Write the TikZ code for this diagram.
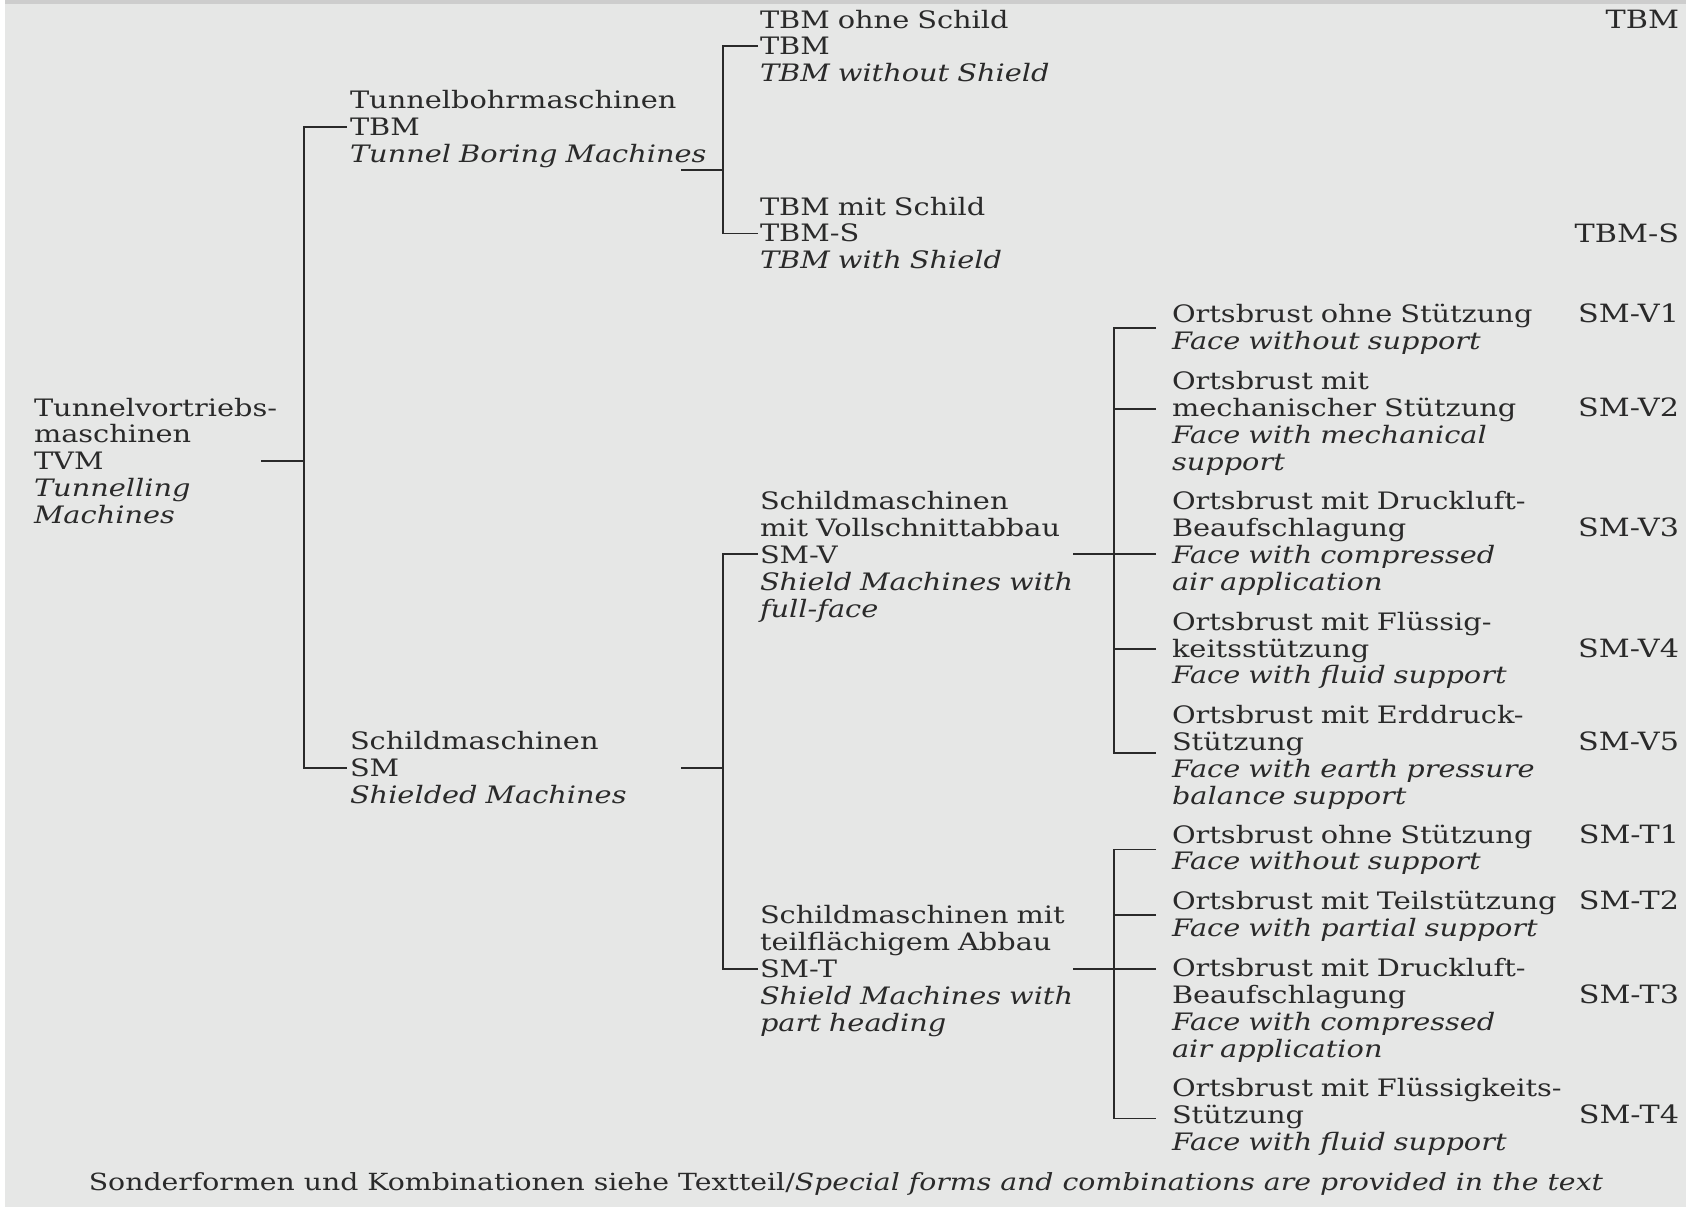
\documentclass[tikz,border=0pt]{standalone}
\usepackage{fontspec}
\setmainfont{DejaVu Serif}[FakeStretch=1.2]
\usetikzlibrary{calc}
\definecolor{bggrey}{HTML}{E6E7E6}
\definecolor{topgrey}{HTML}{CDCDCD}
\definecolor{ink}{HTML}{2A2A2A}

\begin{document}
\begin{tikzpicture}[x=0.5pt,y=-0.5pt]
        \tikzstyle{every node}=[inner sep=0pt, outer sep=0pt, align=left, text=ink, font=\fontsize{12}{13.45}\selectfont]
        \tikzstyle{entry}=[anchor=base west, text width=200pt]
        \tikzstyle{code}=[anchor=base east, font=\fontsize{12.6}{13.45}\selectfont]
        \tikzstyle{link}=[draw=ink, line width=0.75pt]
        \useasboundingbox (0,0) rectangle (1686,1207);
        \fill[bggrey] (5,0) rectangle (1686,1207);
        \fill[topgrey] (5,0) rectangle (1686,4);

        % level 0 and 1
        \node[entry] (tvm) at (34,416) {Tunnelvortriebs-\\maschinen\\TVM\\\textit{Tunnelling}\\\textit{Machines}};
        \node[entry] (tbm) at (350,108.6) {Tunnelbohrmaschinen\\TBM\\\textit{Tunnel Boring Machines}};
        \node[entry] (sm) at (350,749.5) {Schildmaschinen\\SM\\\textit{Shielded Machines}};

        % level 2
        \node[entry] (tbmo) at (760,28) {TBM ohne Schild\\TBM\\\textit{TBM without Shield}};
        \node[entry] (tbms) at (760,215) {TBM mit Schild\\TBM-S\\\textit{TBM with Shield}};
        \node[entry] (smv) at (760,509.7) {Schildmaschinen\\mit Vollschnittabbau\\SM-V\\\textit{Shield Machines with}\\\textit{full-face}};
        \node[entry] (smt) at (760,923.7) {Schildmaschinen mit\\teilflächigem Abbau\\SM-T\\\textit{Shield Machines with}\\\textit{part heading}};

        % level 3
        \node[entry] (v1) at (1172,322.6) {Ortsbrust ohne Stützung\\\textit{Face without support}};
        \node[entry] (v2) at (1172,389.3) {Ortsbrust mit\\mechanischer Stützung\\\textit{Face with mechanical}\\\textit{support}};
        \node[entry] (v3) at (1172,509.7) {Ortsbrust mit Druckluft-\\Beaufschlagung\\\textit{Face with compressed}\\\textit{air application}};
        \node[entry] (v4) at (1172,630.1) {Ortsbrust mit Flüssig-\\keitsstützung\\\textit{Face with fluid support}};
        \node[entry] (v5) at (1172,723.7) {Ortsbrust mit Erddruck-\\Stützung\\\textit{Face with earth pressure}\\\textit{balance support}};
        \node[entry] (t1) at (1172,843.0) {Ortsbrust ohne Stützung\\\textit{Face without support}};
        \node[entry] (t2) at (1172,909.7) {Ortsbrust mit Teilstützung\\\textit{Face with partial support}};
        \node[entry] (t3) at (1172,976.4) {Ortsbrust mit Druckluft-\\Beaufschlagung\\\textit{Face with compressed}\\\textit{air application}};
        \node[entry] (t4) at (1172,1096.8) {Ortsbrust mit Flüssigkeits-\\Stützung\\\textit{Face with fluid support}};

        % short names on the right
        \node[code] (c-tbm) at (1679,28) {TBM};
        \node[code] (c-tbms) at (1679,242) {TBM-S};
        \node[code] (c-v1) at (1679,322.6) {SM-V1};
        \node[code] (c-v2) at (1679,416.2) {SM-V2};
        \node[code] (c-v3) at (1679,536.6) {SM-V3};
        \node[code] (c-v4) at (1679,657.0) {SM-V4};
        \node[code] (c-v5) at (1679,750.6) {SM-V5};
        \node[code] (c-t1) at (1679,843.0) {SM-T1};
        \node[code] (c-t2) at (1679,909.7) {SM-T2};
        \node[code] (c-t3) at (1679,1003.3) {SM-T3};
        \node[code] (c-t4) at (1679,1123.7) {SM-T4};

        \node[anchor=base, font=\fontsize{11.8}{13.45}\selectfont] (note) at (846,1190.4) {Sonderformen und Kombinationen siehe Textteil/\textit{Special forms and combinations are provided in the text}};

        % hooks
        \coordinate (tvm-out) at ($(tvm.base west)+(227,45)$);
        \coordinate (tbm-in) at ($(tbm.base west)+(-3,18.3)$);
        \coordinate (sm-in) at ($(sm.base west)+(-3,18.3)$);
        \coordinate (spA) at ($(tbm-in)+(-43,0)$);
        \coordinate (tbm-out) at ($(tbm.base west)+(331,61.3)$);
        \coordinate (sm-out) at ($(sm.base west)+(331,18.3)$);
        \coordinate (tbmo-in) at ($(tbmo.base west)+(-2,18.2)$);
        \coordinate (tbms-in) at ($(tbms.base west)+(-2,18.3)$);
        \coordinate (smv-in) at ($(smv.base west)+(-2,44.1)$);
        \coordinate (smt-in) at ($(smt.base west)+(-2,45.1)$);
        \coordinate (spB) at ($(tbmo-in)+(-35,0)$);
        \coordinate (spC) at ($(smv-in)+(-35,0)$);
        \coordinate (smv-out) at ($(smv.base west)+(313,44.1)$);
        \coordinate (smt-out) at ($(smt.base west)+(313,45.1)$);
        \coordinate (v1-in) at ($(v1.base west)+(-16,5.4)$);
        \coordinate (v2-in) at ($(v2.base west)+(-16,19.7)$);
        \coordinate (v3-in) at ($(v3.base west)+(-16,44.1)$);
        \coordinate (v4-in) at ($(v4.base west)+(-16,18.9)$);
        \coordinate (v5-in) at ($(v5.base west)+(-16,29.3)$);
        \coordinate (t1-in) at ($(t1.base west)+(-16,6.5)$);
        \coordinate (t2-in) at ($(t2.base west)+(-16,5.4)$);
        \coordinate (t3-in) at ($(t3.base west)+(-16,-7.6)$);
        \coordinate (t4-in) at ($(t4.base west)+(-16,21.5)$);
        \coordinate (spD) at ($(v1-in)+(-42,0)$);
        \coordinate (spE) at ($(t1-in)+(-42,0)$);

        % connectors
        \draw[link] (tbm-in) -- (spA) |- (sm-in);
        \draw[link] (tvm-out) -- (tvm-out -| spA);
        \draw[link] (tbmo-in) -- (spB) |- (tbms-in);
        \draw[link] (tbm-out) -- (tbm-out -| spB);
        \draw[link] (smv-in) -- (spC) |- (smt-in);
        \draw[link] (sm-out) -- (sm-out -| spC);
        \draw[link] (v1-in) -- (spD) |- (v5-in);
        \foreach \n in {v2,v3,v4} \draw[link] (\n-in) -- (\n-in -| spD);
        \draw[link] (smv-out) -- (smv-out -| spD);
        \draw[link] (t1-in) -- (spE) |- (t4-in);
        \foreach \n in {t2,t3} \draw[link] (\n-in) -- (\n-in -| spE);
        \draw[link] (smt-out) -- (smt-out -| spE);
    \end{tikzpicture}
\end{document}
